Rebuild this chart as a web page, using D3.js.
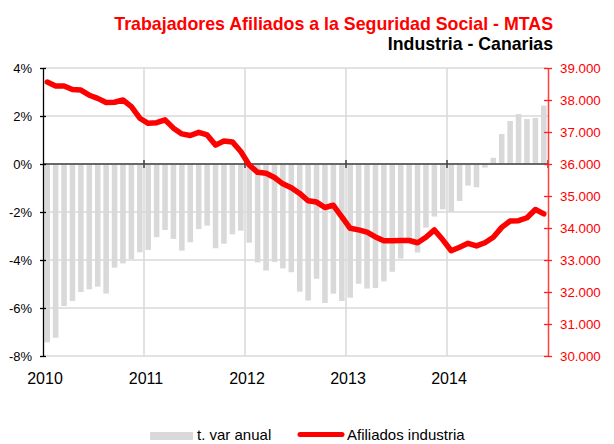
<!DOCTYPE html>
<html>
<head>
<meta charset="utf-8">
<script src="https://cdn.jsdelivr.net/npm/d3@7"></script>
<style>
    body { margin: 0; background: #fff; }
    text { font-family: "Liberation Sans", Arial, sans-serif; }
</style>
</head>
<body>
<script>
// months Jan 2010 .. Dec 2014
var years = ["2010", "2011", "2012", "2013", "2014"];
var months = [];
years.forEach(function (y) {
    for (var m = 1; m <= 12; m++) months.push(y + "-" + (m < 10 ? "0" + m : m));
});

// t. var anual (%)
var tasaVar = [
    -7.43, -7.24, -5.92, -5.71, -5.33, -5.22, -5.11, -5.40, -4.32, -4.14, -3.96, -3.68,
    -3.58, -3.05, -2.75, -3.12, -3.61, -3.26, -2.71, -2.57, -3.51, -3.32, -2.93, -2.78,
    -3.28, -4.10, -4.44, -4.08, -4.35, -4.51, -5.32, -5.69, -4.78, -5.79, -5.40, -5.71,
    -5.57, -4.99, -5.19, -5.17, -4.89, -4.49, -3.94, -3.20, -3.69, -2.65, -2.19, -1.89,
    -1.99, -1.54, -0.90, -0.97, -0.15, 0.26, 1.25, 1.79, 2.08, 1.87, 1.92, 2.43
];

// Afiliados industria
var afiliados = [
    38560, 38440, 38440, 38330, 38310, 38150, 38050, 37920, 37930, 38000, 37790, 37430,
    37270, 37290, 37380, 37120, 36940, 36890, 36990, 36910, 36590, 36720, 36690, 36390,
    35970, 35740, 35710, 35580, 35380, 35260, 35080, 34850, 34810, 34640, 34710, 34350,
    33990, 33940, 33870, 33720, 33600, 33600, 33610, 33610, 33540, 33710, 33940, 33630,
    33290, 33400, 33520, 33440, 33540, 33710, 34020, 34220, 34230, 34320, 34580, 34440
];

var leftTicks = [0.04, 0.02, 0, -0.02, -0.04, -0.06, -0.08];
var rightTicks = [39000, 38000, 37000, 36000, 35000, 34000, 33000, 32000, 31000, 30000];

var width = 614, height = 444;
var x0 = 43, x1 = 548, yTop = 68, yBot = 356;

var svg = d3.select("body").append("svg")
    .attr("width", width)
    .attr("height", height);

var xb = d3.scaleBand()
    .domain(d3.range(months.length))
    .range([x0, x1])
    .paddingInner(0.34)
    .paddingOuter(0.17);

var xYear = d3.scaleLinear().domain([2010, 2015]).range([x0, x1]);

var yL = d3.scaleLinear().domain([-8, 4]).range([yBot, yTop]);
var yR = d3.scaleLinear().domain([30000, 39000]).range([yBot, yTop]);

var esLocale = d3.formatLocale({ decimal: ",", thousands: ".", grouping: [3], currency: ["", "€"] });
var fmtR = esLocale.format(",.0f");

// gridlines
svg.append("g").selectAll("line.h")
    .data(leftTicks)
    .enter().append("line")
    .attr("x1", x0).attr("x2", x1)
    .attr("y1", function (d) { return yL(d * 100); })
    .attr("y2", function (d) { return yL(d * 100); })
    .style("stroke", "#d9d9d9")
    .style("stroke-width", 1.5);

svg.append("g").selectAll("line.v")
    .data([2011, 2012, 2013, 2014])
    .enter().append("line")
    .attr("x1", function (d) { return xYear(d); })
    .attr("x2", function (d) { return xYear(d); })
    .attr("y1", yTop).attr("y2", yBot)
    .style("stroke", "#d9d9d9")
    .style("stroke-width", 1.5);

// bars
svg.append("g").selectAll("rect")
    .data(tasaVar)
    .enter().append("rect")
    .attr("x", function (d, i) { return xb(i); })
    .attr("width", xb.bandwidth())
    .attr("y", function (d) { return yL(Math.max(0, d)); })
    .attr("height", function (d) { return Math.abs(yL(d) - yL(0)); })
    .style("fill", "#d9d9d9");

// zero axis
svg.append("line")
    .attr("x1", x0).attr("x2", x1)
    .attr("y1", yL(0)).attr("y2", yL(0))
    .style("stroke", "#404040")
    .style("stroke-width", 1.3);

svg.append("g").selectAll("line")
    .data([2011, 2012, 2013, 2014, 2015])
    .enter().append("line")
    .attr("x1", function (d) { return xYear(d); })
    .attr("x2", function (d) { return xYear(d); })
    .attr("y1", yL(0) - 4).attr("y2", yL(0) + 4)
    .style("stroke", "#404040")
    .style("stroke-width", 1.5);

// left axis
var leftAxis = d3.axisLeft(yL)
    .tickValues(leftTicks.map(function (d) { return d * 100; }))
    .tickFormat(function (d) { return d + "%"; })
    .tickSizeInner(3)
    .tickSizeOuter(0)
    .tickPadding(8);

var gl = svg.append("g")
    .attr("transform", "translate(" + x0 + ",0)")
    .call(leftAxis);
gl.select(".domain").style("stroke", "#000").style("stroke-width", 1.3);
gl.selectAll(".tick line").attr("x2", -3).attr("x1", 3).style("stroke", "#000").style("stroke-width", 1.3);
gl.selectAll(".tick text")
    .style("font-family", "Liberation Sans, Arial, sans-serif")
    .style("font-size", "13px")
    .style("fill", "#000");

// right axis
var rightAxis = d3.axisRight(yR)
    .tickValues(rightTicks)
    .tickFormat(fmtR)
    .tickSizeInner(3)
    .tickSizeOuter(0)
    .tickPadding(9);

var gr = svg.append("g")
    .attr("transform", "translate(" + x1 + ",0)")
    .call(rightAxis);
gr.select(".domain").style("stroke", "#ff4040").style("stroke-width", 1.5);
gr.selectAll(".tick line").attr("x1", -4).attr("x2", 4).style("stroke", "#ff2020").style("stroke-width", 1.3);
gr.selectAll(".tick text")
    .style("font-family", "Liberation Sans, Arial, sans-serif")
    .style("font-size", "13.3px")
    .style("fill", "#ff0000");

// year labels
svg.append("g").selectAll("text")
    .data(years)
    .enter().append("text")
    .attr("x", function (d) { return xYear(+d) + 2; })
    .attr("y", 384)
    .attr("text-anchor", "middle")
    .style("font-size", "16px")
    .style("fill", "#000")
    .text(function (d) { return d; });

// line
var line = d3.line()
    .x(function (d, i) { return xb(i) + xb.bandwidth() / 2; })
    .y(function (d) { return yR(d); });

svg.append("path")
    .datum(afiliados)
    .attr("d", line)
    .style("fill", "none")
    .style("stroke", "#ff0000")
    .style("stroke-width", 5.5)
    .style("stroke-linejoin", "round")
    .style("stroke-linecap", "round");

// titles
svg.append("text")
    .attr("x", 553).attr("y", 30)
    .attr("text-anchor", "end")
    .style("font-size", "17.8px")
    .style("font-weight", "bold")
    .style("fill", "#ff0000")
    .text("Trabajadores Afiliados a la Seguridad Social - MTAS");

svg.append("text")
    .attr("x", 553).attr("y", 50)
    .attr("text-anchor", "end")
    .style("font-size", "17.7px")
    .style("font-weight", "bold")
    .style("fill", "#000")
    .text("Industria - Canarias");

// legend
var lg = svg.append("g");
lg.append("rect")
    .attr("x", 150).attr("y", 432)
    .attr("width", 43).attr("height", 8)
    .style("fill", "#d9d9d9");
lg.append("text")
    .attr("x", 197).attr("y", 440)
    .style("font-size", "15px")
    .style("fill", "#000")
    .text("t. var anual");
lg.append("line")
    .attr("x1", 300).attr("x2", 342)
    .attr("y1", 434.5).attr("y2", 434.5)
    .style("stroke", "#ff0000")
    .style("stroke-width", 5)
    .style("stroke-linecap", "round");
lg.append("text")
    .attr("x", 347).attr("y", 440)
    .style("font-size", "15px")
    .style("fill", "#000")
    .text("Afiliados industria");
</script>
</body>
</html>
